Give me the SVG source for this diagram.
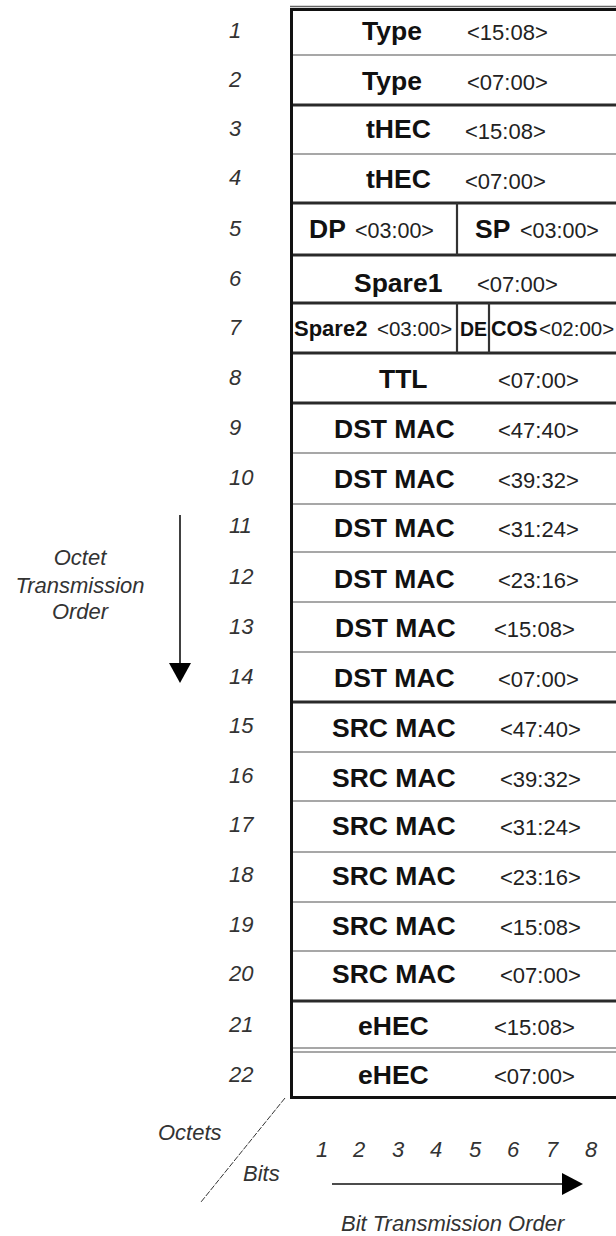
<svg xmlns="http://www.w3.org/2000/svg" width="616" height="1236" viewBox="0 0 616 1236">
<style>
text{font-family:"Liberation Sans",Arial,Helvetica,sans-serif}
.b{font-weight:bold;font-size:26.5px;fill:#111}
.r{font-size:22px;fill:#222}
.rs{font-size:20.5px;fill:#222}
.n{font-style:italic;font-size:22px;fill:#333}
.lab{font-style:italic;font-size:22px;fill:#333}
.thin{stroke:#8a8a8a;stroke-width:1.6;fill:none}
.thick{stroke:#2a2a2a;stroke-width:3;fill:none}
.vdiv{stroke:#333;stroke-width:2.2;fill:none}
.frame{stroke:#111;stroke-width:3;fill:#fff}
.conn{stroke:#111;stroke-width:1.6;fill:none}
</style>
<defs>
<marker id="ah" viewBox="0 0 10 10" refX="9" refY="5" markerWidth="6" markerHeight="6" orient="auto">
<path d="M0,0 L10,5 L0,10 z" fill="#000"/>
</marker>
</defs>
<rect width="616" height="1236" fill="#fff"/>

<g id="frame">
<rect class="frame" x="291.5" y="9.5" width="340" height="1088"/>
<line x1="290" y1="6.5" x2="616" y2="6.5" stroke="#666" stroke-width="1.5"/>
<line class="thin" x1="293" y1="55" x2="616" y2="55"/>
<line class="thick" x1="293" y1="105" x2="616" y2="105"/>
<line class="thin" x1="293" y1="154" x2="616" y2="154"/>
<line class="thick" x1="293" y1="203" x2="616" y2="203"/>
<line class="thick" x1="293" y1="255" x2="616" y2="255"/>
<line class="thick" x1="293" y1="303" x2="616" y2="303"/>
<line class="thick" x1="293" y1="353" x2="616" y2="353"/>
<line class="thick" x1="293" y1="403" x2="616" y2="403" stroke-width="2.4"/>
<line class="thin" x1="293" y1="453" x2="616" y2="453"/>
<line class="thin" x1="293" y1="504" x2="616" y2="504"/>
<line class="thin" x1="293" y1="552" x2="616" y2="552"/>
<line class="thin" x1="293" y1="602" x2="616" y2="602"/>
<line class="thin" x1="293" y1="652" x2="616" y2="652"/>
<line class="thick" x1="293" y1="702" x2="616" y2="702"/>
<line class="thin" x1="293" y1="752" x2="616" y2="752"/>
<line class="thin" x1="293" y1="801" x2="616" y2="801"/>
<line class="thin" x1="293" y1="852" x2="616" y2="852"/>
<line class="thin" x1="293" y1="902" x2="616" y2="902"/>
<line class="thin" x1="293" y1="951" x2="616" y2="951"/>
<line class="thick" x1="293" y1="1001" x2="616" y2="1001"/>
<line class="thin" x1="293" y1="1048" x2="616" y2="1048" stroke-width="1.2"/>
<line class="thin" x1="293" y1="1052" x2="616" y2="1052" stroke-width="1.2"/>
<line class="vdiv" x1="457" y1="203" x2="457" y2="255"/>
<line class="vdiv" x1="457" y1="303" x2="457" y2="353"/>
<line class="vdiv" x1="489" y1="303" x2="489" y2="353"/>
</g>

<g id="row1"><text class="n" x="229" y="38">1</text><text class="b" x="362" y="40">Type</text><text class="r" x="467" y="40">&lt;15:08&gt;</text></g>
<g id="row2"><text class="n" x="229" y="87">2</text><text class="b" x="362" y="90">Type</text><text class="r" x="467" y="90">&lt;07:00&gt;</text></g>
<g id="row3"><text class="n" x="229" y="136">3</text><text class="b" x="366" y="138">tHEC</text><text class="r" x="465" y="139">&lt;15:08&gt;</text></g>
<g id="row4"><text class="n" x="229" y="185">4</text><text class="b" x="366" y="188">tHEC</text><text class="r" x="465" y="189">&lt;07:00&gt;</text></g>
<g id="row5"><text class="n" x="229" y="236">5</text><text class="b" x="309" y="238">DP</text><text class="r" x="355" y="238" style="font-size:21.5px">&lt;03:00&gt;</text><text class="b" x="475" y="238">SP</text><text class="r" x="520" y="238" style="font-size:21.5px">&lt;03:00&gt;</text></g>
<g id="row6"><text class="n" x="229" y="286">6</text><text class="b" x="354" y="292">Spare1</text><text class="r" x="477" y="292">&lt;07:00&gt;</text></g>
<g id="row7"><text class="n" x="229" y="335">7</text><text class="b" x="294" y="336" style="font-size:22px">Spare2</text><text class="rs" x="377" y="336">&lt;03:00&gt;</text><text class="b" x="460" y="336" style="font-size:19.5px">DE</text><text class="b" x="491" y="336" style="font-size:21.5px">COS</text><text class="rs" x="539" y="336">&lt;02:00&gt;</text></g>
<g id="row8"><text class="n" x="229" y="385">8</text><text class="b" x="379" y="388">TTL</text><text class="r" x="498" y="388">&lt;07:00&gt;</text></g>
<g id="row9"><text class="n" x="229" y="435">9</text><text class="b" x="334" y="438">DST MAC</text><text class="r" x="498" y="438">&lt;47:40&gt;</text></g>
<g id="row10"><text class="n" x="229" y="485">10</text><text class="b" x="334" y="488">DST MAC</text><text class="r" x="498" y="488">&lt;39:32&gt;</text></g>
<g id="row11"><text class="n" x="229" y="533">11</text><text class="b" x="334" y="537">DST MAC</text><text class="r" x="498" y="537">&lt;31:24&gt;</text></g>
<g id="row12"><text class="n" x="229" y="584">12</text><text class="b" x="334" y="588">DST MAC</text><text class="r" x="498" y="588">&lt;23:16&gt;</text></g>
<g id="row13"><text class="n" x="229" y="634">13</text><text class="b" x="335" y="637">DST MAC</text><text class="r" x="494" y="637">&lt;15:08&gt;</text></g>
<g id="row14"><text class="n" x="229" y="684">14</text><text class="b" x="334" y="687">DST MAC</text><text class="r" x="498" y="687">&lt;07:00&gt;</text></g>
<g id="row15"><text class="n" x="229" y="733">15</text><text class="b" x="332" y="737">SRC MAC</text><text class="r" x="500" y="737">&lt;47:40&gt;</text></g>
<g id="row16"><text class="n" x="229" y="783">16</text><text class="b" x="332" y="787">SRC MAC</text><text class="r" x="500" y="787">&lt;39:32&gt;</text></g>
<g id="row17"><text class="n" x="229" y="832">17</text><text class="b" x="332" y="835">SRC MAC</text><text class="r" x="500" y="835">&lt;31:24&gt;</text></g>
<g id="row18"><text class="n" x="229" y="882">18</text><text class="b" x="332" y="885">SRC MAC</text><text class="r" x="500" y="885">&lt;23:16&gt;</text></g>
<g id="row19"><text class="n" x="229" y="932">19</text><text class="b" x="332" y="935">SRC MAC</text><text class="r" x="500" y="935">&lt;15:08&gt;</text></g>
<g id="row20"><text class="n" x="229" y="981">20</text><text class="b" x="332" y="983">SRC MAC</text><text class="r" x="500" y="983">&lt;07:00&gt;</text></g>
<g id="row21"><text class="n" x="229" y="1032">21</text><text class="b" x="358" y="1035">eHEC</text><text class="r" x="494" y="1035">&lt;15:08&gt;</text></g>
<g id="row22"><text class="n" x="229" y="1082">22</text><text class="b" x="358" y="1084">eHEC</text><text class="r" x="494" y="1084">&lt;07:00&gt;</text></g>

<g id="octet-order-label">
<text class="lab" x="80" y="565" text-anchor="middle">Octet</text>
<text class="lab" x="80" y="593" text-anchor="middle">Transmission</text>
<text class="lab" x="80" y="619" text-anchor="middle">Order</text>
</g>
<g id="axis-labels">
<text class="lab" x="158" y="1140">Octets</text>
<text class="lab" x="243" y="1181">Bits</text>
<text class="lab" x="316" y="1157">1</text>
<text class="lab" x="353" y="1157">2</text>
<text class="lab" x="392" y="1157">3</text>
<text class="lab" x="430" y="1157">4</text>
<text class="lab" x="469" y="1157">5</text>
<text class="lab" x="507" y="1157">6</text>
<text class="lab" x="546" y="1157">7</text>
<text class="lab" x="585" y="1157">8</text>
<text class="lab" x="341" y="1231">Bit Transmission Order</text>
</g>

<g id="connectors">
<line class="conn" x1="180" y1="515" x2="180" y2="665"/>
<polygon points="169,663 191,663 180,683" fill="#000"/>
<line class="conn" x1="332" y1="1184" x2="564" y2="1184"/>
<polygon points="562,1173 583,1184 562,1195" fill="#000"/>
<line x1="285" y1="1098" x2="201" y2="1202" stroke="#333" stroke-width="1" stroke-dasharray="6,1.5"/>
</g>
</svg>
